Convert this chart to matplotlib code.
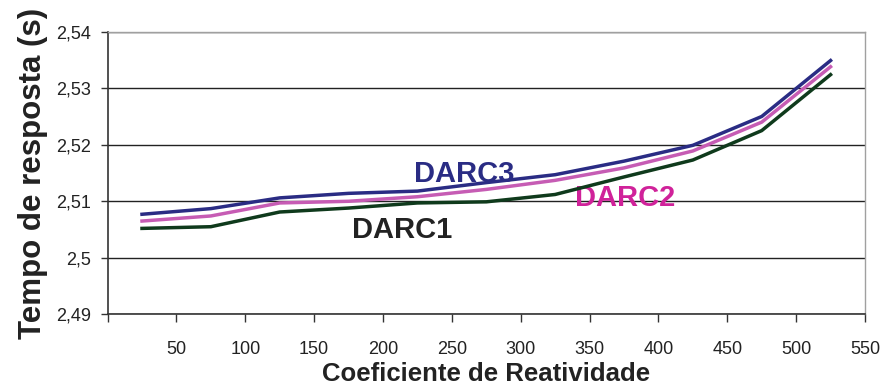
import numpy as np
import matplotlib
matplotlib.use("Agg")
import matplotlib.pyplot as plt
import matplotlib.ticker as mticker

plt.rcParams['font.family'] = ['Liberation Sans', 'DejaVu Sans']

# ── dados ─────────────────────────────────────────────────────────────────────
coef = [25, 75, 125, 175, 225, 275, 325, 375, 425, 475, 525]
darc1 = [2.5052, 2.5055, 2.5081, 2.5088, 2.5097, 2.5099, 2.5112, 2.5143, 2.5173, 2.5225, 2.5324]
darc2 = [2.5065, 2.5074, 2.5097, 2.5100, 2.5108, 2.5121, 2.5137, 2.5159, 2.5189, 2.5240, 2.5338]
darc3 = [2.5077, 2.5087, 2.5106, 2.5114, 2.5118, 2.5133, 2.5147, 2.5171, 2.5199, 2.5250, 2.5349]

c1, c2, c3 = '#0f3a1c', '#c65cb4', '#2a2c84'

fig = plt.figure(figsize=(8.89, 3.89), dpi=100)
ax = fig.add_axes([0.121, 0.192, 0.852, 0.7265])

ax.plot(coef, darc1, color=c1, lw=2.5, zorder=4)
ax.plot(coef, darc2, color=c2, lw=2.5, zorder=4)
ax.plot(coef, darc3, color=c3, lw=2.5, zorder=4)

# rótulos das séries
ax.text(259, 2.5148, 'DARC3', color=c3, fontsize=21, fontweight='bold', ha='center', va='center')
ax.text(376, 2.5105, 'DARC2', color='#d0229a', fontsize=21, fontweight='bold', ha='center', va='center')
ax.text(214, 2.5050, 'DARC1', color='#222222', fontsize=21, fontweight='bold', ha='center', va='center')

ax.set_xlim(0, 550)
ax.set_ylim(2.49, 2.54)
ax.xaxis.set_major_locator(mticker.MultipleLocator(50))
ax.yaxis.set_major_locator(mticker.MultipleLocator(0.01))
ax.xaxis.set_major_formatter(mticker.FuncFormatter(lambda x, _: '' if x == 0 else f"{x:.0f}"))
ax.yaxis.set_major_formatter(mticker.FuncFormatter(
    lambda y, _: f"{y:.2f}".rstrip('0').replace('.', ',')))

ax.grid(axis='y', color='#222222', lw=1.0, zorder=1)
ax.tick_params(axis='y', length=5, width=1, color='#333333', pad=7, labelsize=13, labelcolor='#222222')
ax.tick_params(axis='x', length=6, width=1, color='#333333', pad=13, labelsize=13, labelcolor='#222222')

for side in ['left', 'bottom']:
    ax.spines[side].set_color('#333333')
    ax.spines[side].set_linewidth(1.2)
for side in ['top', 'right']:
    ax.spines[side].set_color('#a0a0a0')
    ax.spines[side].set_linewidth(1.0)

ax.set_xlabel('Coeficiente de Reatividade', fontsize=18.5, fontweight='bold', color='#222222')
ax.xaxis.set_label_coords(0.5, -0.168)
ax.set_ylabel('Tempo de resposta (s)', fontsize=22.5, fontweight='bold', color='#222222', labelpad=6)

fig.savefig('out.png', dpi=100, facecolor='white')
